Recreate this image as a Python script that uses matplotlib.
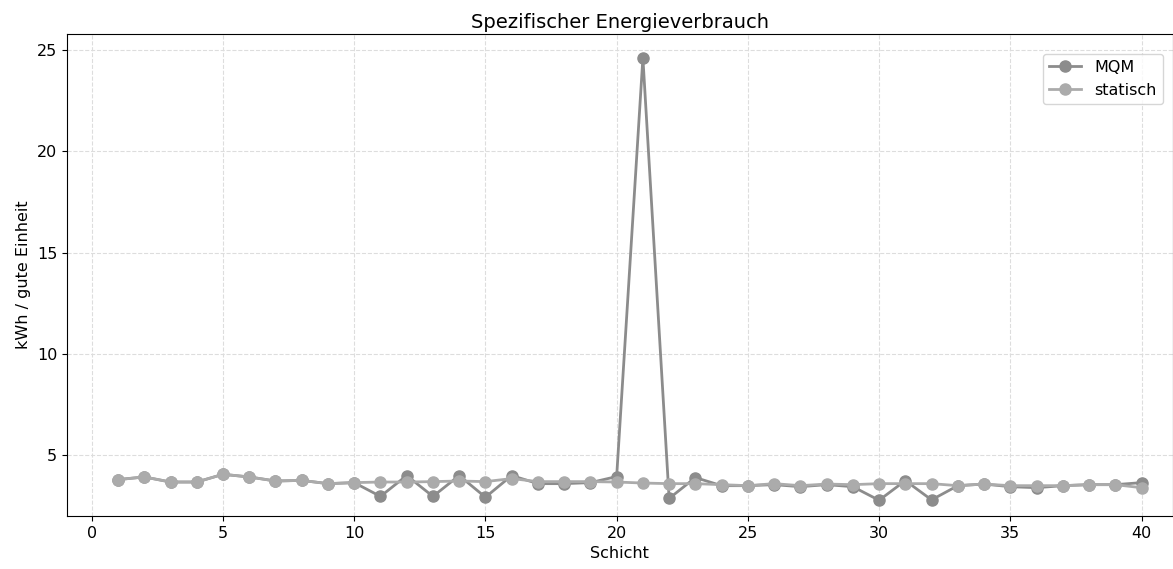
from matplotlib import pyplot as plt
import numpy as np

plt.rcParams['font.family'] = ['DejaVu Sans']

schicht = np.arange(1, 41)
mqm = [3.8, 3.93, 3.68, 3.68, 4.06, 3.93, 3.73, 3.76, 3.6, 3.65,
       2.97, 4.0, 2.97, 4.0, 2.93, 4.0, 3.6, 3.6, 3.65, 3.95,
       24.6, 2.87, 3.9, 3.5, 3.5, 3.55, 3.45, 3.55, 3.45, 2.78,
       3.75, 2.8, 3.5, 3.58, 3.45, 3.4, 3.5, 3.55, 3.55, 3.65]
statisch = [3.8, 3.93, 3.68, 3.68, 4.06, 3.93, 3.73, 3.76, 3.6, 3.65,
            3.68, 3.68, 3.7, 3.73, 3.7, 3.85, 3.7, 3.7, 3.7, 3.68,
            3.63, 3.6, 3.6, 3.55, 3.5, 3.6, 3.5, 3.58, 3.55, 3.6,
            3.6, 3.6, 3.5, 3.58, 3.5, 3.5, 3.5, 3.55, 3.55, 3.4]

fig = plt.figure(figsize=(11.73, 5.69), dpi=100)
ax = fig.add_axes([0.057, 0.093, 0.943, 0.848])
ax.plot(schicht, mqm, "-o", color="#8c8c8c", lw=2, markersize=8, label="MQM")
ax.plot(schicht, statisch, "-o", color="#ababab", lw=2, markersize=8, label="statisch")
ax.set_xlim(-0.95, 41.2)
ax.set_ylim(2.0, 25.8)
ax.set_title("Spezifischer Energieverbrauch", fontsize=14, pad=4)
ax.set_xlabel("Schicht", fontsize=11.5, labelpad=4)
ax.set_ylabel("kWh / gute Einheit", fontsize=11.5)
ax.tick_params(labelsize=11.5)
ax.grid(True, linestyle="--", color="#dddddd", linewidth=0.8)
ax.legend(loc="upper right", fontsize=11.5, bbox_to_anchor=(0.998, 0.975))
fig.savefig("out.png", dpi=100)
